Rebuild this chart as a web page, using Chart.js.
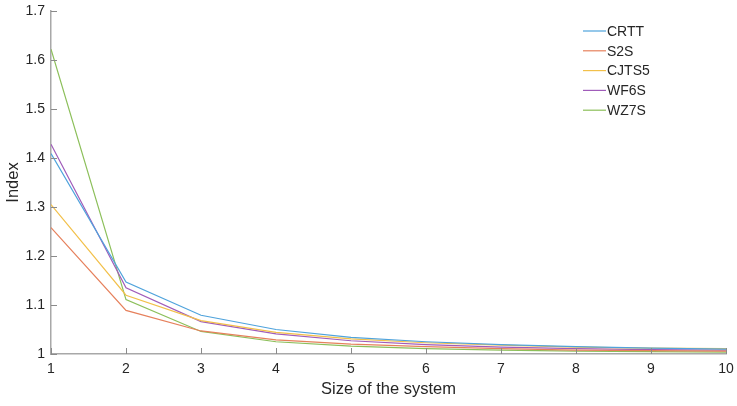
<!DOCTYPE html>
<html>
<head>
<meta charset="utf-8">
<script src="https://cdn.jsdelivr.net/npm/chart.js@4/dist/chart.umd.min.js"></script>
<style>
  html, body { margin: 0; padding: 0; background: #fff; }
  #wrap { width: 737px; height: 406px; }
</style>
</head>
<body>
<div id="wrap"><canvas id="myChart"></canvas></div>
<script>
const sizes = [1, 2, 3, 4, 5, 6, 7, 8, 9, 10];
const seriesNames = ['CRTT', 'S2S', 'CJTS5', 'WF6S', 'WZ7S'];
const crtt  = [1.409, 1.147, 1.079, 1.050, 1.034, 1.025, 1.019, 1.015, 1.012, 1.010];
const s2s   = [1.258, 1.089, 1.047, 1.029, 1.020, 1.015, 1.011, 1.008, 1.007, 1.006];
const cjts5 = [1.305, 1.120, 1.068, 1.044, 1.031, 1.023, 1.018, 1.014, 1.012, 1.011];
const wf6s  = [1.428, 1.135, 1.066, 1.041, 1.027, 1.019, 1.014, 1.011, 1.009, 1.008];
const wz7s  = [1.622, 1.111, 1.046, 1.025, 1.016, 1.011, 1.008, 1.006, 1.005, 1.004];
const yTicks = [1, 1.1, 1.2, 1.3, 1.4, 1.5, 1.6, 1.7];

const seriesValues = [crtt, s2s, cjts5, wf6s, wz7s];
const colors = ['#4fa3dc', '#e6805c', '#f2c04a', '#a05cba', '#8cbf5a'];

const axisColor = '#a8a8a8';
const textColor = '#262626';
const fontFamily = 'Arial, "Liberation Sans", Helvetica, sans-serif';

// inward tick marks, MATLAB style
const inwardTicks = {
  id: 'inward-ticks',
  afterDatasetsDraw(chart) {
    const ctx = chart.ctx;
    const x = chart.scales.x, y = chart.scales.y;
    const area = chart.chartArea;
    ctx.save();
    ctx.strokeStyle = '#8a8a8a';
    ctx.lineWidth = 1;
    ctx.beginPath();
    sizes.forEach(v => {
      const px = Math.round(x.getPixelForValue(v)) + 0.5;
      ctx.moveTo(px, area.bottom);
      ctx.lineTo(px, area.bottom - 6);
    });
    yTicks.forEach(v => {
      const py = Math.round(y.getPixelForValue(v)) + 0.5;
      ctx.moveTo(area.left, py);
      ctx.lineTo(area.left + 6, py);
    });
    ctx.stroke();
    ctx.restore();
  }
};

// vertical legend in the upper right corner
const cornerLegend = {
  id: 'corner-legend',
  afterDraw(chart) {
    const ctx = chart.ctx;
    ctx.save();
    ctx.font = '14px ' + fontFamily;
    ctx.textBaseline = 'middle';
    ctx.textAlign = 'left';
    chart.data.datasets.forEach((ds, i) => {
      const yy = 31 + i * 19.8;
      ctx.strokeStyle = ds.borderColor;
      ctx.lineWidth = 1.2;
      ctx.beginPath();
      ctx.moveTo(583, yy);
      ctx.lineTo(606, yy);
      ctx.stroke();
      ctx.fillStyle = textColor;
      ctx.fillText(ds.label, 607, yy + 1);
    });
    ctx.restore();
  }
};

const ctx = document.getElementById('myChart').getContext('2d');
new Chart(ctx, {
  type: 'line',
  data: {
    datasets: seriesNames.map((name, i) => ({
      label: name,
      data: sizes.map((s, j) => ({ x: s, y: seriesValues[i][j] })),
      borderColor: colors[i],
      backgroundColor: colors[i],
      borderWidth: 1.2,
      pointRadius: 0,
      tension: 0,
      fill: false
    }))
  },
  options: {
    responsive: true,
    maintainAspectRatio: false,
    animation: false,
    events: [],
    layout: { padding: { left: 0, top: 11, right: 11, bottom: 0 } },
    plugins: {
      legend: { display: false },
      tooltip: { enabled: false }
    },
    scales: {
      x: {
        type: 'linear',
        min: 1,
        max: 10,
        afterBuildTicks: (axis) => { axis.ticks = sizes.map(v => ({ value: v })); },
        afterFit: (axis) => { axis.height = 52; axis.paddingRight = 0; axis.paddingLeft = 0; },
        border: { display: true, color: axisColor, width: 1.5 },
        grid: { display: false, drawOnChartArea: false, drawTicks: false },
        ticks: {
          color: textColor,
          font: { size: 14, family: fontFamily },
          padding: 7,
          maxRotation: 0
        },
        title: {
          display: true,
          text: 'Size of the system',
          color: textColor,
          font: { size: 16.5, family: fontFamily },
          padding: { top: 0, bottom: 7 }
        }
      },
      y: {
        type: 'linear',
        min: 1,
        max: 1.7,
        afterBuildTicks: (axis) => { axis.ticks = yTicks.map(v => ({ value: v })); },
        afterFit: (axis) => { axis.width = 51; axis.paddingTop = 0; axis.paddingBottom = 0; },
        border: { display: true, color: axisColor, width: 1.5 },
        grid: { display: false, drawOnChartArea: false, drawTicks: false },
        ticks: {
          color: textColor,
          font: { size: 14, family: fontFamily },
          padding: 6,
          callback: (v) => String(Math.round(v * 10) / 10)
        },
        title: {
          display: true,
          text: 'Index',
          color: textColor,
          font: { size: 16.5, family: fontFamily },
          padding: { top: 4, bottom: 0 }
        }
      }
    }
  },
  plugins: [inwardTicks, cornerLegend]
});
</script>
</body>
</html>
